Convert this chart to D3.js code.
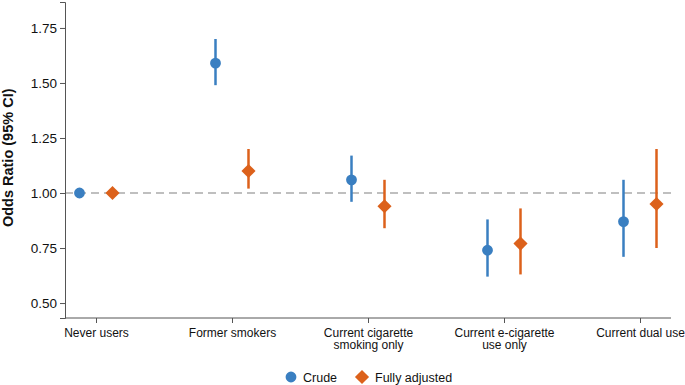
<!DOCTYPE html>
<html>
<head>
<meta charset="utf-8">
<script src="https://cdn.jsdelivr.net/npm/d3@7"></script>
<style>
  body { margin: 0; background: #fff; }
  svg { display: block; font-family: "Liberation Sans", Arial, sans-serif; }
</style>
</head>
<body>
<div id="chart"></div>
<script>
// categories and estimates
const categories = ["Never users", "Former smokers", "Current cigarette\nsmoking only", "Current e-cigarette\nuse only", "Current dual use"];
const crudeOR = [1.00, 1.59, 1.06, 0.74, 0.87];
const crudeLo = [1.00, 1.49, 0.96, 0.62, 0.71];
const crudeHi = [1.00, 1.70, 1.17, 0.88, 1.06];
const adjOR = [1.00, 1.10, 0.94, 0.77, 0.95];
const adjLo = [1.00, 1.02, 0.84, 0.63, 0.75];
const adjHi = [1.00, 1.20, 1.06, 0.93, 1.20];
const yTicks = [0.50, 0.75, 1.00, 1.25, 1.50, 1.75];
const seriesNames = ["Crude", "Fully adjusted"];

const width = 685, height = 385;
const margin = { top: 2, right: 14, bottom: 68, left: 65 };

const svg = d3.select("#chart").append("svg")
  .attr("width", width)
  .attr("height", height);

const x = d3.scalePoint()
  .domain(categories)
  .range([96, 640]);

const y = d3.scaleLinear()
  .domain([0.432, 1.868])
  .range([height - margin.bottom + 1, margin.top]);

const blue = "#3a7fc1", orange = "#dc611b";
const offset = 16.5;

// reference line at OR = 1
svg.append("line")
  .attr("x1", margin.left).attr("x2", width - margin.right)
  .attr("y1", y(1)).attr("y2", y(1))
  .attr("stroke", "#aaa")
  .attr("stroke-width", 1.5)
  .attr("stroke-dasharray", "8,5");

// y axis
const yAxis = svg.append("g")
  .attr("transform", `translate(${margin.left},0)`)
  .call(d3.axisLeft(y).tickValues(yTicks).tickFormat(d3.format(".2f")).tickSizeOuter(0).tickSize(5));
yAxis.select(".domain").attr("stroke", "#555");
yAxis.selectAll(".tick line").attr("stroke", "#555");
yAxis.selectAll("text").attr("font-size", 13.5).attr("fill", "#111")
  .attr("font-family", "'Liberation Sans', Arial, sans-serif");

// x axis
const xAxis = svg.append("g")
  .attr("transform", `translate(0,${y.range()[0]})`)
  .call(d3.axisBottom(x).tickSizeOuter(0).tickSize(5).tickFormat(""));
xAxis.select(".domain").attr("d", `M${margin.left},0H${width - margin.right}`).attr("stroke", "#555");
xAxis.selectAll(".tick line").attr("stroke", "#555");

xAxis.selectAll(".tick").append("text")
  .attr("fill", "#111")
  .attr("font-size", 12)
  .attr("text-anchor", "middle")
  .attr("font-family", "'Liberation Sans', Arial, sans-serif")
  .each(function (d) {
    const lines = d.split("\n");
    const t = d3.select(this);
    lines.forEach((ln, i) => {
      t.append("tspan").attr("x", 0).attr("y", 19 + i * 12).text(ln);
    });
  });

// y title
svg.append("text")
  .attr("transform", `translate(13,${y(1.16)}) rotate(-90)`)
  .attr("text-anchor", "middle")
  .attr("font-weight", "bold")
  .attr("font-size", 14.5)
  .attr("fill", "#111")
  .text("Odds Ratio (95% CI)");

// error bars + markers
const crude = categories.map((c, i) => ({ c, or: crudeOR[i], lo: crudeLo[i], hi: crudeHi[i] }));
const adj = categories.map((c, i) => ({ c, or: adjOR[i], lo: adjLo[i], hi: adjHi[i] }));

svg.append("g").selectAll("line")
  .data(crude).join("line")
  .attr("x1", d => x(d.c) - offset).attr("x2", d => x(d.c) - offset)
  .attr("y1", d => y(d.lo)).attr("y2", d => y(d.hi))
  .attr("stroke", blue).attr("stroke-width", 2.5);

svg.append("g").selectAll("line")
  .data(adj).join("line")
  .attr("x1", d => x(d.c) + offset).attr("x2", d => x(d.c) + offset)
  .attr("y1", d => y(d.lo)).attr("y2", d => y(d.hi))
  .attr("stroke", orange).attr("stroke-width", 2.5);

const circleSym = d3.symbol().type(d3.symbolCircle).size(92);
const diamondSym = d3.symbol().type(d3.symbolSquare).size(100);

svg.append("g").selectAll("path")
  .data(crude).join("path")
  .attr("d", circleSym)
  .attr("transform", d => `translate(${x(d.c) - offset},${y(d.or)})`)
  .attr("fill", blue);

svg.append("g").selectAll("path")
  .data(adj).join("path")
  .attr("d", diamondSym)
  .attr("transform", d => `translate(${x(d.c) + offset},${y(d.or)}) rotate(45)`)
  .attr("fill", orange);

// legend
const legend = svg.append("g").attr("transform", "translate(0,377)");
legend.append("path").attr("d", circleSym).attr("transform", "translate(291,0)").attr("fill", blue);
legend.append("text").attr("x", 303).attr("y", 4.5).attr("font-size", 12.5).attr("fill", "#111").text(seriesNames[0]);
legend.append("path").attr("d", diamondSym).attr("transform", "translate(362,0) rotate(45)").attr("fill", orange);
legend.append("text").attr("x", 375).attr("y", 4.5).attr("font-size", 12.5).attr("fill", "#111").text(seriesNames[1]);
</script>
</body>
</html>
